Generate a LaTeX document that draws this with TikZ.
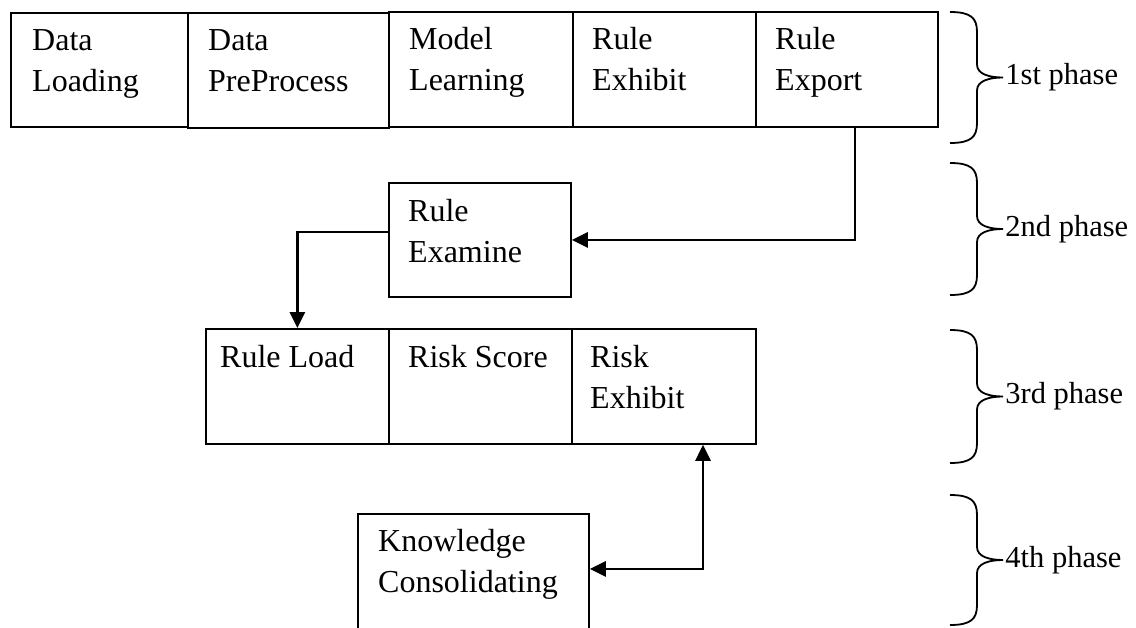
\documentclass[tikz,border=0pt]{standalone}
\usepackage{fontspec}
\setmainfont{Liberation Serif}
\usetikzlibrary{arrows.meta,calc}
\newcommand\phbrace[4]{%
  \pgfmathsetmacro\bm{(#1+#2)/2}%
  \draw[bracel] (950,#1) .. controls (971,#1) and (977,#1+6) .. (977,#1+20)
    -- (977,\bm-13) .. controls (977,\bm-3) and (990,\bm) .. (1003,\bm)
    node[phase] (#4) {#3}
    .. controls (990,\bm) and (977,\bm+3) .. (977,\bm+13)
    -- (977,#2-20) .. controls (977,#2-6) and (971,#2) .. (950,#2);
}
\begin{document}
\begin{tikzpicture}[x=1pt,y=-1pt,
  box/.style={draw, line width=1.8pt, inner sep=0pt, anchor=north west},
  txt/.style={font=\fontsize{32}{41}\selectfont, align=left, anchor=base west, inner sep=0pt},
  phase/.style={font=\fontsize{30.5}{36}\selectfont, anchor=west, inner sep=1.5pt},
  bracel/.style={line width=1.8pt},
  arr/.style={line width=2.8pt, -{Triangle[length=16pt,width=15pt]}},
  arrb/.style={line width=2.8pt, {Triangle[length=16pt,width=15pt]}-{Triangle[length=16pt,width=15pt]}}
]
\fill[white] (0,0) rectangle (1136,627);
\useasboundingbox (0,0) rectangle (1136,627);
\clip (0,0) rectangle (1136,627);

% 1st phase row
\node[box, minimum width=177pt, minimum height=114pt] (dl) at (10,12) {};
\node[box, minimum width=201pt, minimum height=115pt] (dp) at (187,12) {};
\node[box, minimum width=184pt, minimum height=115pt] (ml) at (388,11) {};
\node[box, minimum width=183pt, minimum height=115pt] (rexh) at (572,11) {};
\node[box, minimum width=182pt, minimum height=115pt] (rexp) at (755,11) {};
\node[txt] (tdl) at (32,91) {Data\\Loading};
\node[txt] (tdp) at (208,91) {Data\\PreProcess};
\node[txt] (tml) at (409,90) {Model\\Learning};
\node[txt] (trh) at (592,90) {Rule\\Exhibit};
\node[txt] (trp) at (775,90) {Rule\\Export};

% 2nd phase
\node[box, minimum width=182pt, minimum height=114pt] (rexam) at (388,182) {};
\node[txt] (tre) at (408,262) {Rule\\Examine};

% 3rd phase row
\node[box, minimum width=183pt, minimum height=115pt] (rl) at (205,328) {};
\node[box, minimum width=183pt, minimum height=115pt] (rs) at (388,328) {};
\node[box, minimum width=184pt, minimum height=115pt] (rex3) at (571,328) {};
\node[txt] (trl) at (220,367) {Rule Load};
\node[txt] (trs) at (408,367) {Risk Score};
\node[txt] (tre3) at (590,408) {Risk\\Exhibit};

% 4th phase
\node[box, minimum width=231pt, minimum height=130pt] (kc) at (357,513) {};
\node[txt] (tkc) at (378,592) {Knowledge\\Consolidating};

% connectors
\draw[arr] ($(rexp.south west)+(100,0)$) |- (rexam.east);
\draw[arr] ($(rexam.west)+(0,-8)$) -| (rl.north);
\draw[arrb] ($(kc.east)+(0,-10)$) -| ($(rex3.south west)+(132,0)$);

% braces
\phbrace{12}{143}{1st phase}{p1}
\phbrace{163}{295}{2nd phase}{p2}
\phbrace{330}{463}{3rd phase}{p3}
\phbrace{495}{625}{4th phase}{p4}
\end{tikzpicture}
\end{document}
